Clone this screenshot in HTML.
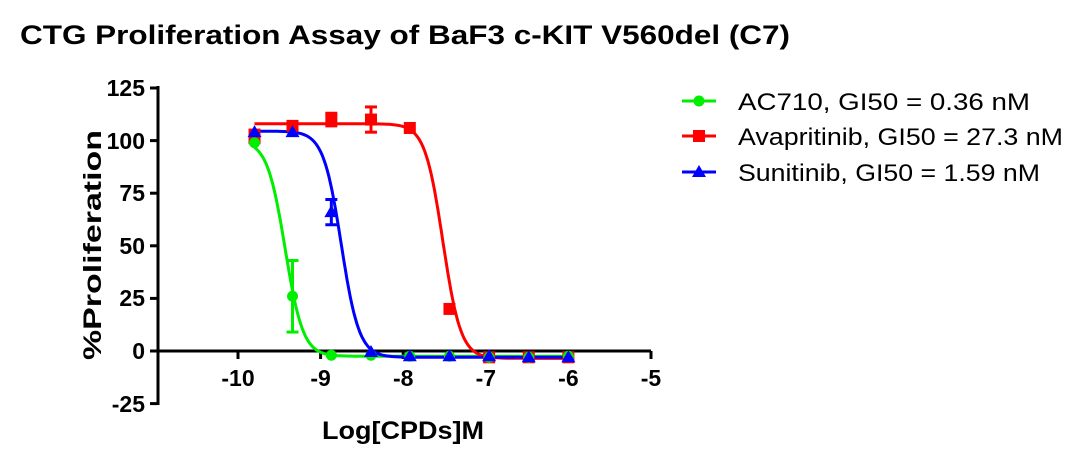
<!DOCTYPE html>
<html><head><meta charset="utf-8"><style>
html,body{margin:0;padding:0;background:#fff;}
svg{display:block;font-family:"Liberation Sans",Arial,sans-serif;}
</style></head><body>
<svg id="s" width="1072" height="449" viewBox="0 0 1072 449" xmlns="http://www.w3.org/2000/svg">
<text x="20" y="44" font-size="27" font-weight="bold" textLength="770" lengthAdjust="spacingAndGlyphs">CTG Proliferation Assay of BaF3 c-KIT V560del (C7)</text>
<g stroke="#000" stroke-width="3" fill="none">
<line x1="158" y1="86" x2="158" y2="405"/>
<line x1="158" y1="351" x2="651" y2="351"/>
<line x1="150" y1="88" x2="158" y2="88"/>
<line x1="150" y1="140.6" x2="158" y2="140.6"/>
<line x1="150" y1="193.2" x2="158" y2="193.2"/>
<line x1="150" y1="245.8" x2="158" y2="245.8"/>
<line x1="150" y1="298.4" x2="158" y2="298.4"/>
<line x1="150" y1="351" x2="158" y2="351"/>
<line x1="150" y1="403.6" x2="158" y2="403.6"/>
<line x1="238" y1="351" x2="238" y2="359"/>
<line x1="320.6" y1="351" x2="320.6" y2="359"/>
<line x1="403.2" y1="351" x2="403.2" y2="359"/>
<line x1="485.8" y1="351" x2="485.8" y2="359"/>
<line x1="568.4" y1="351" x2="568.4" y2="359"/>
<line x1="651" y1="351" x2="651" y2="359"/>
</g>
<g font-size="23" font-weight="bold" text-anchor="end">
<text x="145" y="96">125</text><text x="145" y="149">100</text><text x="145" y="201">75</text>
<text x="145" y="254">50</text><text x="145" y="306">25</text><text x="145" y="359">0</text><text x="145" y="412">-25</text>
</g>
<g font-size="23" font-weight="bold" text-anchor="middle">
<text x="238" y="386">-10</text><text x="320.6" y="386">-9</text><text x="403.2" y="386">-8</text>
<text x="485.8" y="386">-7</text><text x="568.4" y="386">-6</text><text x="651" y="386">-5</text>
</g>
<text x="322" y="439" font-size="25" font-weight="bold" textLength="162" lengthAdjust="spacingAndGlyphs">Log[CPDs]M</text>
<text transform="translate(101,360) rotate(-90)" font-size="25" font-weight="bold" textLength="230" lengthAdjust="spacingAndGlyphs">%Proliferation</text>
<g id="plot"></g>
<g font-size="24">
<line x1="682" y1="101" x2="716" y2="101" stroke="#00ee00" stroke-width="3"/><circle cx="699" cy="101" r="5.5" fill="#00ee00"/>
<text x="738" y="110" textLength="292" lengthAdjust="spacingAndGlyphs">AC710, GI50 = 0.36 nM</text>
<line x1="682" y1="136" x2="716" y2="136" stroke="#ff0000" stroke-width="3"/><rect x="693" y="130" width="12" height="12" fill="#ff0000"/>
<text x="738" y="145" textLength="325" lengthAdjust="spacingAndGlyphs">Avapritinib, GI50 = 27.3 nM</text>
<line x1="682" y1="172" x2="716" y2="172" stroke="#0000ff" stroke-width="3"/><polygon points="699,165 706,177 692,177" fill="#0000ff"/>
<text x="738" y="181" textLength="302" lengthAdjust="spacingAndGlyphs">Sunitinib, GI50 = 1.59 nM</text>
</g>
</svg>
<script>
var X=function(l){return 238+(l+10)*82.6},Y=function(v){return 351-v*2.104};
var xs=[-9.8,-9.34,-8.87,-8.39,-7.92,-7.44,-6.96,-6.48,-6.0];
var ser=[
 {c:"#ff0000",top:108,bot:-3.5,ic:-7.52,h:4,ys:[102,107,110,110,106,20,-3,-3,-3],e:[[0,3],[1,2],[2,3],[3,6]],m:"sq"},
 {c:"#0000ff",top:104.5,bot:-3,ic:-8.75,h:4,ys:[104,104,66,-0.5,-2.5,-2.5,-2.5,-3,-3],e:[[2,6]],m:"tri"},
 {c:"#00ee00",top:100,bot:-2.5,ic:-9.43,h:4,ys:[99,26,-2,-2,-2.5,-2.5,-3,-3,-2.5],e:[[1,17]],m:"ci"}];
var g=document.getElementById("plot"),h="";
[ser[2],ser[0],ser[1]].forEach(function(s){
 var d="";for(var l=-9.8;l<=-6.0+1e-9;l+=0.02){var v=s.bot+(s.top-s.bot)/(1+Math.pow(10,(l-s.ic)*s.h));d+=(d?"L":"M")+X(l).toFixed(1)+","+Y(v).toFixed(1);}
 h+='<path d="'+d+'" stroke="'+s.c+'" stroke-width="3" fill="none"/>';
});
ser.forEach(function(s){
 s.e.forEach(function(e){var x=X(xs[e[0]]),y=s.ys[e[0]],a=Y(y+e[1]),b=Y(y-e[1]);
  h+='<g stroke="'+s.c+'" stroke-width="3"><line x1="'+x+'" y1="'+a+'" x2="'+x+'" y2="'+b+'"/><line x1="'+(x-6)+'" y1="'+a+'" x2="'+(x+6)+'" y2="'+a+'"/><line x1="'+(x-6)+'" y1="'+b+'" x2="'+(x+6)+'" y2="'+b+'"/></g>';});
});
[ser[0],ser[2],ser[1]].forEach(function(s){
 xs.forEach(function(l,i){var x=X(l),y=Y(s.ys[i]);
  if(s.m=="sq")h+='<rect x="'+(x-6)+'" y="'+(y-6)+'" width="12" height="12" fill="'+s.c+'"/>';
  else if(s.m=="ci")h+='<circle cx="'+x+'" cy="'+y+'" r="5.5" fill="'+s.c+'"/>';
  else h+='<polygon points="'+x+','+(y-7)+' '+(x+7)+','+(y+5)+' '+(x-7)+','+(y+5)+'" fill="'+s.c+'"/>';});
});
g.innerHTML=h;
</script>
</body></html>
